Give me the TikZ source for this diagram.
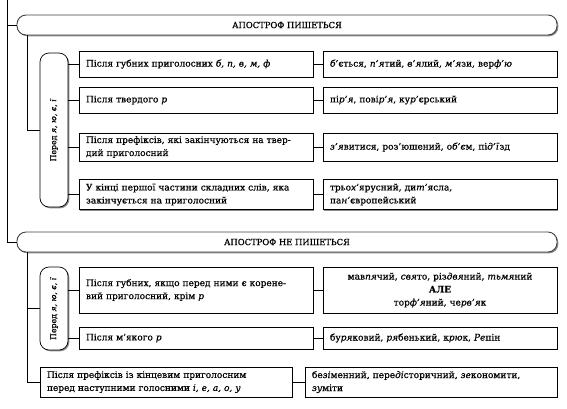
\documentclass[tikz,border=0pt]{standalone}
\usepackage{fontspec}
\setmainfont{DejaVu Serif}[FakeBold=0.6]
\usetikzlibrary{shadows}
\begin{document}
\begin{tikzpicture}[x=1pt,y=-1pt,
  ln/.style={draw=black, line width=0.7pt},
  shd/.style={drop shadow={shadow xshift=1.3pt, shadow yshift=-1.3pt, fill=black!45, opacity=1}},
  rbox/.style={draw=black, line width=0.7pt, fill=white, shd, inner xsep=7pt, inner ysep=2pt,
    align=left, font=\fontsize{9}{13}\selectfont},
  lrow/.style={rbox, text width=220pt, minimum height=#1},
  wrow/.style={rbox, text width=238pt, minimum height=#1},
  hdr/.style={draw=black!75, line width=0.9pt, fill=white, rounded corners=9pt, shd,
    minimum width=540pt, minimum height=20pt, font=\fontsize{8.4}{10}\selectfont},
  vbox/.style={draw=black, line width=0.7pt, fill=white, rounded corners=9pt, shd,
    minimum width=28pt, minimum height=#1, inner sep=0pt},
  vtxt/.style={rotate=90, font=\fontsize{7.8}{9}\selectfont}
]
\useasboundingbox (0,0) rectangle (567,408);
% headers
\node[hdr] (h1) at (287,25) {АПОСТРОФ ПИШЕТЬСЯ};
\node[hdr] (h2) at (287,242) {АПОСТРОФ НЕ ПИШЕТЬСЯ};
\coordinate (top) at (7,0);
\coordinate (t1) at (7,25);
\coordinate (t2) at (7,242);
\draw[ln] (top) -- (t2) -- (h2.west);
\draw[ln] (t1) -- (h1.west);
% section 1
\node[vbox=154pt] (v1) at (54,130) {};
\node[vtxt] (v1t) at (v1.center) {Перед \textit{я, ю, є, ї}};
\coordinate (s1a) at (27,35);
\coordinate (s1b) at (27,130);
\draw[ln] (s1a) -- (s1b) -- (v1.west);

\node[lrow=26pt] (a1) at (196,64) {Після губних приголосних \textit{б, п, в, м, ф}};
\node[lrow=26pt] (a2) at (196,100) {Після твердого \textit{р}};
\node[lrow=28pt] (a3) at (196,147) {Після префіксів, які закінчуються на твер-\\дий приголосний};
\node[lrow=30pt] (a4) at (196,194.5) {У кінці першої частини складних слів, яка\\закінчується на приголосний};

\node[lrow=26pt] (b1) at (440,64) {\textit{б'}ється, \textit{п'я}тий, \textit{в'я}лий, \textit{м'я}зи, вер\textit{ф'ю}};
\node[lrow=26pt] (b2) at (440,100) {пі\textit{р'я}, пові\textit{р'я}, ку\textit{р'}єрський};
\node[lrow=28pt] (b3) at (440,147) {\textit{з'я}витися, роз'юшений, о\textit{б'є}м, пі\textit{д'ї}зд};
\node[lrow=30pt] (b4) at (440,194.5) {трьо\textit{х'}ярусний, ди\textit{т'}ясла,\\па\textit{н'}європейський};

\foreach \r in {a1,a2,a3,a4}{\draw[ln] (v1.east |- \r.west) -- (\r.west);}
\foreach \l/\r in {a1/b1,a2/b2,a3/b3,a4/b4}{\draw[ln] (\l.east) -- (\r.west);}

% section 2
\node[vbox=83pt] (v2) at (54,308.5) {};
\node[vtxt] (v2t) at (v2.center) {Перед \textit{я, ю, є, ї}};
\coordinate (s2a) at (27,252);
\coordinate (s2b) at (27,382);
\draw[ln] (s2a) -- (s2b);
\draw[ln] (27,308.5) -- (v2.west);

\node[lrow=46pt] (c1) at (196,290) {Після губних, якщо перед ними є корене-\\вий приголосний, крім \textit{р}};
\node[lrow=22pt] (c2) at (196,338) {Після м'якого \textit{р}};
\node[wrow=30pt] (c3) at (166,382) {Після префіксів із кінцевим приголосним\\перед наступними голосними \textit{і, е, а, о, у}};

\node[lrow=46pt, align=center] (d1) at (440,290) {мав\textit{пя}чий, \textit{свя}то, різ\textit{двя}ний, \textit{тьмя}ний\\\textbf{АЛЕ}\\тор\textit{ф'я}ний, че\textit{рв'я}к};
\node[lrow=22pt] (d2) at (440,338) {бу\textit{ря}ковий, \textit{ря}бенький, к\textit{рю}к, \textit{Ре}пін};
\node[wrow=30pt] (d3) at (431,382) {бе\textit{зі}менний, пере\textit{ді}сторичний, \textit{зе}кономити,\\\textit{зу}міти};

\draw[ln] (s2b) -- (c3.west);
\foreach \r in {c1,c2}{\draw[ln] (v2.east |- \r.west) -- (\r.west);}
\foreach \l/\r in {c1/d1,c2/d2,c3/d3}{\draw[ln] (\l.east) -- (\r.west);}
\end{tikzpicture}
\end{document}
